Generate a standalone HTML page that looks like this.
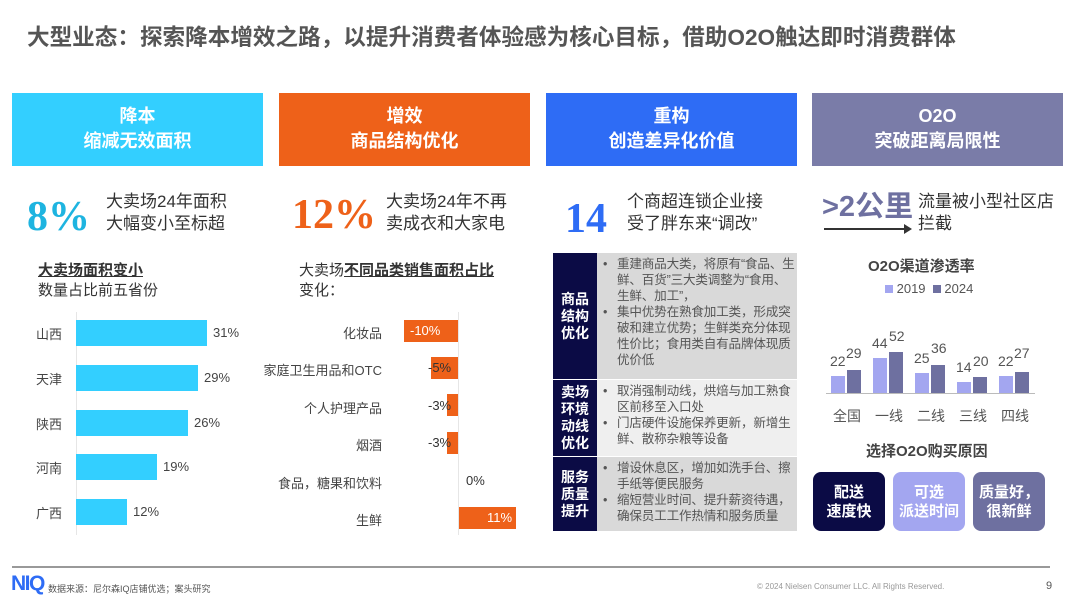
<!DOCTYPE html>
<html><head><meta charset="utf-8"><style>
*{margin:0;padding:0;box-sizing:border-box}
body{width:1080px;height:608px;background:#fff;position:relative;overflow:hidden;font-family:"Liberation Sans","Noto Sans CJK SC",sans-serif;color:#444}
.a{position:absolute;white-space:nowrap}
.hb{position:absolute;top:93px;width:251px;height:73px;color:#fff;font-weight:bold;font-size:18px;line-height:25px;text-align:center;padding-top:11px}
.big{font-family:"Liberation Serif","Noto Serif CJK SC",serif;font-weight:bold;font-size:42px;line-height:42px}
.st{font-size:17px;line-height:22px;color:#333}
.cb{position:absolute;background:#33CFFF;height:26px}
.lab{font-size:13px;color:#444}
.ob{position:absolute;background:#EE6119;height:22px}
.sec{position:absolute;left:553px;width:244px}
.sec .d{position:absolute;left:0;top:0;bottom:0;width:44px;background:#0B0B45;color:#fff;font-weight:bold;font-size:14px;line-height:17px;display:flex;align-items:center;justify-content:center;text-align:center;white-space:normal;padding:0 6px}
.sec .t{position:absolute;left:44px;right:0;top:0;bottom:0;font-size:12.6px;line-height:16px;color:#555;padding:3px 0 0 20px;letter-spacing:-0.2px;overflow:hidden}
.sec .t p{position:relative;margin:0}
.sec .t p:before{content:"•";position:absolute;left:-14px}
.bar{position:absolute;width:14px}
.l{background:#A3A6F0}.dk{background:#6E70A0}
.v{position:absolute;font-size:14px;color:#555}
.rb{position:absolute;top:472px;width:72px;height:59px;border-radius:8px;color:#fff;font-weight:bold;font-size:15px;line-height:19px;text-align:center;padding-top:11px}
</style></head><body>
<div class="a" style="left:27px;top:19px;font-size:22.6px;font-weight:bold;color:#555">大型业态：探索降本增效之路，以提升消费者体验感为核心目标，借助O2O触达即时消费群体</div>

<div class="hb" style="left:12px;background:#33CFFF">降本<br>缩减无效面积</div>
<div class="hb" style="left:279px;background:#EE6119">增效<br>商品结构优化</div>
<div class="hb" style="left:546px;background:#2E6CF5">重构<br>创造差异化价值</div>
<div class="hb" style="left:812px;background:#7A7CA8">O2O<br>突破距离局限性</div>

<div class="a big" style="left:27px;top:196px;color:#1EB4E0">8%</div>
<div class="a st" style="left:106px;top:191px">大卖场24年面积<br>大幅变小至标超</div>
<div class="a big" style="left:292px;top:194px;color:#EE6119">12%</div>
<div class="a st" style="left:386px;top:191px">大卖场24年不再<br>卖成衣和大家电</div>
<div class="a big" style="left:565px;top:198px;color:#2E6CF5">14</div>
<div class="a st" style="left:627px;top:191px">个商超连锁企业接<br>受了胖东来“调改”</div>
<div class="a" style="left:822px;top:192px;font-size:29px;font-weight:bold;color:#6E70A0;line-height:30px">&gt;2公里</div>
<div class="a" style="left:824px;top:228px;width:86px;height:2px;background:#333"></div>
<div class="a" style="left:904px;top:224px;width:0;height:0;border-left:8px solid #333;border-top:5px solid transparent;border-bottom:5px solid transparent"></div>
<div class="a st" style="left:918px;top:191px">流量被小型社区店<br>拦截</div>

<div class="a" style="left:38px;top:261px;font-size:15px;line-height:20px;color:#333"><b style="text-decoration:underline">大卖场面积变小</b><br>数量占比前五省份</div>
<div class="a" style="left:76px;top:312px;width:1px;height:223px;background:#e6e6e6"></div>
<div class="a lab" style="left:36px;top:324px">山西</div><div class="cb" style="left:76px;top:320px;width:131px"></div><div class="a lab" style="left:213px;top:325px">31%</div>
<div class="a lab" style="left:36px;top:369px">天津</div><div class="cb" style="left:76px;top:365px;width:122px"></div><div class="a lab" style="left:204px;top:370px">29%</div>
<div class="a lab" style="left:36px;top:414px">陕西</div><div class="cb" style="left:76px;top:410px;width:112px"></div><div class="a lab" style="left:194px;top:415px">26%</div>
<div class="a lab" style="left:36px;top:458px">河南</div><div class="cb" style="left:76px;top:454px;width:81px"></div><div class="a lab" style="left:163px;top:459px">19%</div>
<div class="a lab" style="left:36px;top:503px">广西</div><div class="cb" style="left:76px;top:499px;width:51px"></div><div class="a lab" style="left:133px;top:504px">12%</div>

<div class="a" style="left:299px;top:261px;font-size:15px;line-height:20px;color:#333">大卖场<b style="text-decoration:underline">不同品类销售面积占比</b><br>变化：</div>
<div class="a" style="left:458px;top:312px;width:1px;height:223px;background:#e6e6e6"></div>
<div class="a lab" style="right:698px;top:323px">化妆品</div><div class="ob" style="left:404px;top:320px;width:54px"></div><div class="a lab" style="left:410px;top:323px;color:#fff">-10%</div>
<div class="a lab" style="right:698px;top:360px">家庭卫生用品和OTC</div><div class="ob" style="left:431px;top:357px;width:27px"></div><div class="a lab" style="left:428px;top:360px;color:#333">-5%</div>
<div class="a lab" style="right:698px;top:398px">个人护理产品</div><div class="ob" style="left:447px;top:394px;width:11px"></div><div class="a lab" style="left:428px;top:398px;color:#333">-3%</div>
<div class="a lab" style="right:698px;top:435px">烟酒</div><div class="ob" style="left:447px;top:432px;width:11px"></div><div class="a lab" style="left:428px;top:435px;color:#333">-3%</div>
<div class="a lab" style="right:698px;top:473px">食品，糖果和饮料</div><div class="a lab" style="left:466px;top:473px;color:#333">0%</div>
<div class="a lab" style="right:698px;top:510px">生鲜</div><div class="ob" style="left:459px;top:507px;width:57px"></div><div class="a lab" style="left:487px;top:510px;color:#fff">11%</div>

<div class="sec" style="top:253px;height:126px"><div class="d">商品结构优化</div><div class="t" style="background:#D9D9D9"><p>重建商品大类，将原有“食品、生鲜、百货”三大类调整为“食用、生鲜、加工”，</p><p>集中优势在熟食加工类，形成突破和建立优势；生鲜类充分体现性价比；食用类自有品牌体现质优价低</p></div></div>
<div class="sec" style="top:380px;height:76px"><div class="d">卖场环境动线优化</div><div class="t" style="background:#EFEFEF"><p>取消强制动线，烘焙与加工熟食区前移至入口处</p><p>门店硬件设施保养更新，新增生鲜、散称杂粮等设备</p></div></div>
<div class="sec" style="top:457px;height:74px"><div class="d">服务质量提升</div><div class="t" style="background:#D9D9D9"><p>增设休息区，增加如洗手台、擦手纸等便民服务</p><p>缩短营业时间、提升薪资待遇，确保员工工作热情和服务质量</p></div></div>

<div class="a" style="left:868px;top:255px;font-size:15px;font-weight:bold;color:#444">O2O渠道渗透率</div>
<div class="a" style="left:885px;top:281px;font-size:13px;color:#555"><span style="display:inline-block;width:8px;height:8px;background:#A3A6F0"></span> 2019 &nbsp;<span style="display:inline-block;width:8px;height:8px;background:#6E70A0"></span> 2024</div>
<div class="a" style="left:826px;top:393px;width:209px;height:1px;background:#bbb"></div>
<div class="bar l" style="left:831px;top:376px;height:17px"></div><div class="bar dk" style="left:847px;top:370px;height:23px"></div>
<div class="bar l" style="left:873px;top:358px;height:35px"></div><div class="bar dk" style="left:889px;top:352px;height:41px"></div>
<div class="bar l" style="left:915px;top:373px;height:20px"></div><div class="bar dk" style="left:931px;top:365px;height:28px"></div>
<div class="bar l" style="left:957px;top:382px;height:11px"></div><div class="bar dk" style="left:973px;top:377px;height:16px"></div>
<div class="bar l" style="left:999px;top:376px;height:17px"></div><div class="bar dk" style="left:1015px;top:372px;height:21px"></div>
<div class="v" style="left:830px;top:353px">22</div><div class="v" style="left:846px;top:345px">29</div>
<div class="v" style="left:872px;top:335px">44</div><div class="v" style="left:889px;top:328px">52</div>
<div class="v" style="left:914px;top:350px">25</div><div class="v" style="left:931px;top:340px">36</div>
<div class="v" style="left:956px;top:359px">14</div><div class="v" style="left:973px;top:353px">20</div>
<div class="v" style="left:998px;top:353px">22</div><div class="v" style="left:1014px;top:345px">27</div>
<div class="v" style="left:833px;top:406px">全国</div><div class="v" style="left:875px;top:406px">一线</div><div class="v" style="left:917px;top:406px">二线</div><div class="v" style="left:959px;top:406px">三线</div><div class="v" style="left:1001px;top:406px">四线</div>

<div class="a" style="left:866px;top:440px;font-size:15px;font-weight:bold;color:#444">选择O2O购买原因</div>
<div class="rb" style="left:813px;background:#0B0B45">配送<br>速度快</div>
<div class="rb" style="left:893px;background:#A3A6F0">可选<br>派送时间</div>
<div class="rb" style="left:973px;background:#6E70A0">质量好，<br>很新鲜</div>

<div class="a" style="left:12px;top:566px;width:1038px;height:2px;background:#999"></div>
<div class="a" style="left:11px;top:572px;font-size:21px;font-weight:bold;color:#2E6CF5;letter-spacing:-1.5px">NIQ</div>
<div class="a" style="left:48px;top:582px;font-size:9px;color:#555">数据来源：尼尔森IQ店铺优选；案头研究</div>
<div class="a" style="left:757px;top:582px;font-size:8px;color:#999">© 2024 Nielsen Consumer LLC. All Rights Reserved.</div>
<div class="a" style="left:1046px;top:580px;font-size:11px;color:#555">9</div>
</body></html>
